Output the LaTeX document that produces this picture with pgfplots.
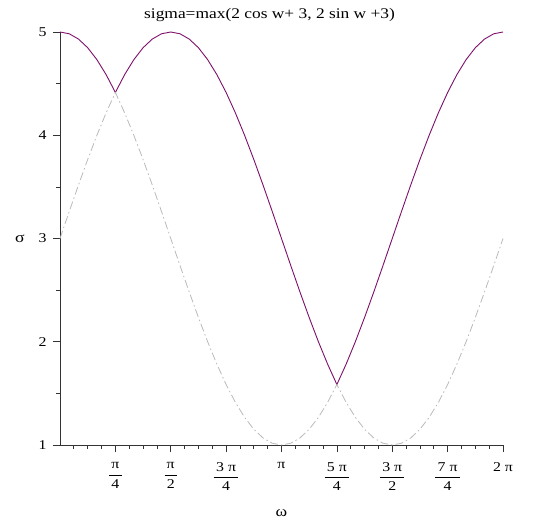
\documentclass[border=0pt]{standalone}
\usepackage{fontspec}
\setmainfont{Liberation Serif}[FakeStretch=1.18]
\usepackage{pgfplots}
\pgfplotsset{compat=1.18}

\definecolor{maxline}{RGB}{125,15,105}
\definecolor{minline}{RGB}{185,185,185}

% fraction tick labels in the text font
\newcommand{\fr}[2]{$\displaystyle\frac{\mbox{\,#1\,}}{\mbox{#2}}$}

\begin{document}
\begin{tikzpicture}
\useasboundingbox (-60bp,-77bp) rectangle (479bp,445bp);

\begin{axis}[
  at={(0,0)}, anchor=south west,
  width=443bp, height=413bp,
  scale only axis,
  xmin=0, xmax=6.2832,
  ymin=1, ymax=5,
  axis x line=bottom,
  axis y line=left,
  axis line style={-, line width=0.8pt, black!80},
  tick style={line width=0.7pt, black!80},
  tick align=outside,
  major tick length=7bp,
  minor tick length=4bp,
  xtick={0.7854,1.5708,2.3562,3.1416,3.9270,4.7124,5.4978,6.2832},
  xticklabels={\fr{π}{4},\fr{π}{2},\fr{3 π}{4},π,\fr{5 π}{4},\fr{3 π}{2},\fr{7 π}{4},2 π},
  minor xtick={0.19635,0.39270,0.58905,0.98175,1.17810,1.37445,1.76715,1.96350,2.15985,
    2.55255,2.74890,2.94525,3.33795,3.53430,3.73065,4.12335,4.31970,4.51605,
    4.90875,5.10510,5.30145,5.69415,5.89050,6.08685},
  ytick={1,2,3,4,5},
  minor ytick={1.5,2.5,3.5,4.5},
  /pgf/number format/assume math mode=true,
  ticklabel style={font=\fontsize{13.5}{16}\selectfont},
  xticklabel style={anchor=north, yshift=-7bp},
  yticklabel style={anchor=east, xshift=-3bp},
  xlabel={ω},
  ylabel={σ},
  label style={font=\fontsize{15}{18}\selectfont},
  xlabel style={at={(0.5,0)}, anchor=center, yshift=-68bp},
  ylabel style={at={(0,0.5)}, anchor=center, rotate=-90, xshift=-40bp},
  title={sigma=max(2 cos w+ 3, 2 sin w +3)},
  every axis title shift=0pt,
  title style={at={(0.473,1)}, anchor=base, yshift=14bp, font=\fontsize{14.8}{18}\selectfont},
  clip=false,
  ]

% max(2 cos w + 3, 2 sin w + 3), read at steps of pi/24
\addplot [maxline, line width=0.9pt] table {
0.0000 5.00000
0.1309 4.98289
0.2618 4.93185
0.3927 4.84776
0.5236 4.73205
0.6545 4.58671
0.7854 4.41421
0.9163 4.58671
1.0472 4.73205
1.1781 4.84776
1.3090 4.93185
1.4399 4.98289
1.5708 5.00000
1.7017 4.98289
1.8326 4.93185
1.9635 4.84776
2.0944 4.73205
2.2253 4.58671
2.3562 4.41421
2.4871 4.21752
2.6180 4.00000
2.7489 3.76537
2.8798 3.51764
3.0107 3.26105
3.1416 3.00000
3.2725 2.73895
3.4034 2.48236
3.5343 2.23463
3.6652 2.00000
3.7961 1.78248
3.9270 1.58579
4.0579 1.78248
4.1888 2.00000
4.3197 2.23463
4.4506 2.48236
4.5815 2.73895
4.7124 3.00000
4.8433 3.26105
4.9742 3.51764
5.1051 3.76537
5.2360 4.00000
5.3669 4.21752
5.4978 4.41421
5.6287 4.58671
5.7596 4.73205
5.8905 4.84776
6.0214 4.93185
6.1523 4.98289
6.2832 5.00000
};

% the other branch (min), dash-dotted
\addplot [minline, line width=0.8pt, dash pattern=on 8bp off 3bp on 1.5bp off 3bp] table {
0.0000 3.00000
0.1309 3.26105
0.2618 3.51764
0.3927 3.76537
0.5236 4.00000
0.6545 4.21752
0.7854 4.41421
0.9163 4.21752
1.0472 4.00000
1.1781 3.76537
1.3090 3.51764
1.4399 3.26105
1.5708 3.00000
1.7017 2.73895
1.8326 2.48236
1.9635 2.23463
2.0944 2.00000
2.2253 1.78248
2.3562 1.58579
2.4871 1.41329
2.6180 1.26795
2.7489 1.15224
2.8798 1.06815
3.0107 1.01711
3.1416 1.00000
3.2725 1.01711
3.4034 1.06815
3.5343 1.15224
3.6652 1.26795
3.7961 1.41329
3.9270 1.58579
4.0579 1.41329
4.1888 1.26795
4.3197 1.15224
4.4506 1.06815
4.5815 1.01711
4.7124 1.00000
4.8433 1.01711
4.9742 1.06815
5.1051 1.15224
5.2360 1.26795
5.3669 1.41329
5.4978 1.58579
5.6287 1.78248
5.7596 2.00000
5.8905 2.23463
6.0214 2.48236
6.1523 2.73895
6.2832 3.00000
};

\end{axis}
\end{tikzpicture}
\end{document}
